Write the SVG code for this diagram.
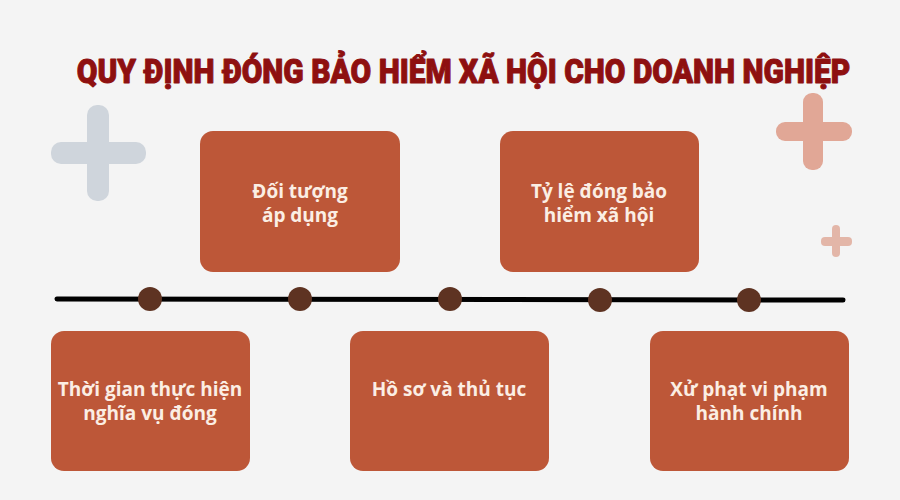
<svg xmlns="http://www.w3.org/2000/svg" width="900" height="500" viewBox="0 0 900 500">
<style>
.box{fill:#bd5738;}
.lbl{font-family:"Open Sans","Noto Sans","DejaVu Sans",sans-serif;font-weight:700;font-size:19px;fill:#fbeee4;text-anchor:middle;}
.dot{fill:#5e3322;}
.title{font-family:Roboto,"Liberation Sans",sans-serif;font-weight:900;font-size:34px;fill:#8e1010;stroke:#8e1010;stroke-width:1px;stroke-linejoin:round;text-anchor:middle;}
</style>
<rect width="900" height="500" fill="#f4f4f4"/>
<g id="decor">
<rect x="87" y="105" width="22" height="96" rx="10" fill="#cfd5dc"/>
<rect x="51" y="142" width="95" height="22" rx="10" fill="#cfd5dc"/>
<rect x="803" y="93" width="20" height="77" rx="9" fill="#e1a796"/>
<rect x="776" y="122" width="76" height="19" rx="9" fill="#e1a796"/>
<rect x="832" y="225" width="8" height="32" rx="4" fill="#e3b6a8"/>
<rect x="821" y="237" width="31" height="9" rx="4" fill="#e3b6a8"/>
</g>
<text id="title" class="title" transform="translate(463.5,83) scale(0.88,1)" x="0" y="0">QUY ĐỊNH ĐÓNG BẢO HIỂM XÃ HỘI CHO DOANH NGHIỆP</text>
<g id="connectors">
<line x1="57" y1="299" x2="843" y2="300" stroke="#000" stroke-width="5" stroke-linecap="round"/>
</g>
<g id="dots">
<circle class="dot" cx="150" cy="299" r="12"/>
<circle class="dot" cx="300" cy="299" r="12"/>
<circle class="dot" cx="450" cy="299" r="12"/>
<circle class="dot" cx="600" cy="300" r="12"/>
<circle class="dot" cx="749" cy="300" r="12"/>
</g>
<g id="node1">
<rect class="box" x="200" y="131" width="200" height="141" rx="13"/>
<text class="lbl" x="300" y="198">Đối tượng</text>
<text class="lbl" x="300" y="222">áp dụng</text>
</g>
<g id="node2">
<rect class="box" x="500" y="131" width="199" height="141" rx="13"/>
<text class="lbl" x="599" y="198">Tỷ lệ đóng bảo</text>
<text class="lbl" x="599" y="222">hiểm xã hội</text>
</g>
<g id="node3">
<rect class="box" x="51" y="331" width="199" height="140" rx="13"/>
<text class="lbl" x="150" y="396">Thời gian thực hiện</text>
<text class="lbl" x="150" y="420">nghĩa vụ đóng</text>
</g>
<g id="node4">
<rect class="box" x="350" y="331" width="199" height="140" rx="13"/>
<text class="lbl" x="449" y="396">Hồ sơ và thủ tục</text>
</g>
<g id="node5">
<rect class="box" x="650" y="331" width="199" height="140" rx="13"/>
<text class="lbl" x="749" y="396">Xử phạt vi phạm</text>
<text class="lbl" x="749" y="420">hành chính</text>
</g>
</svg>
